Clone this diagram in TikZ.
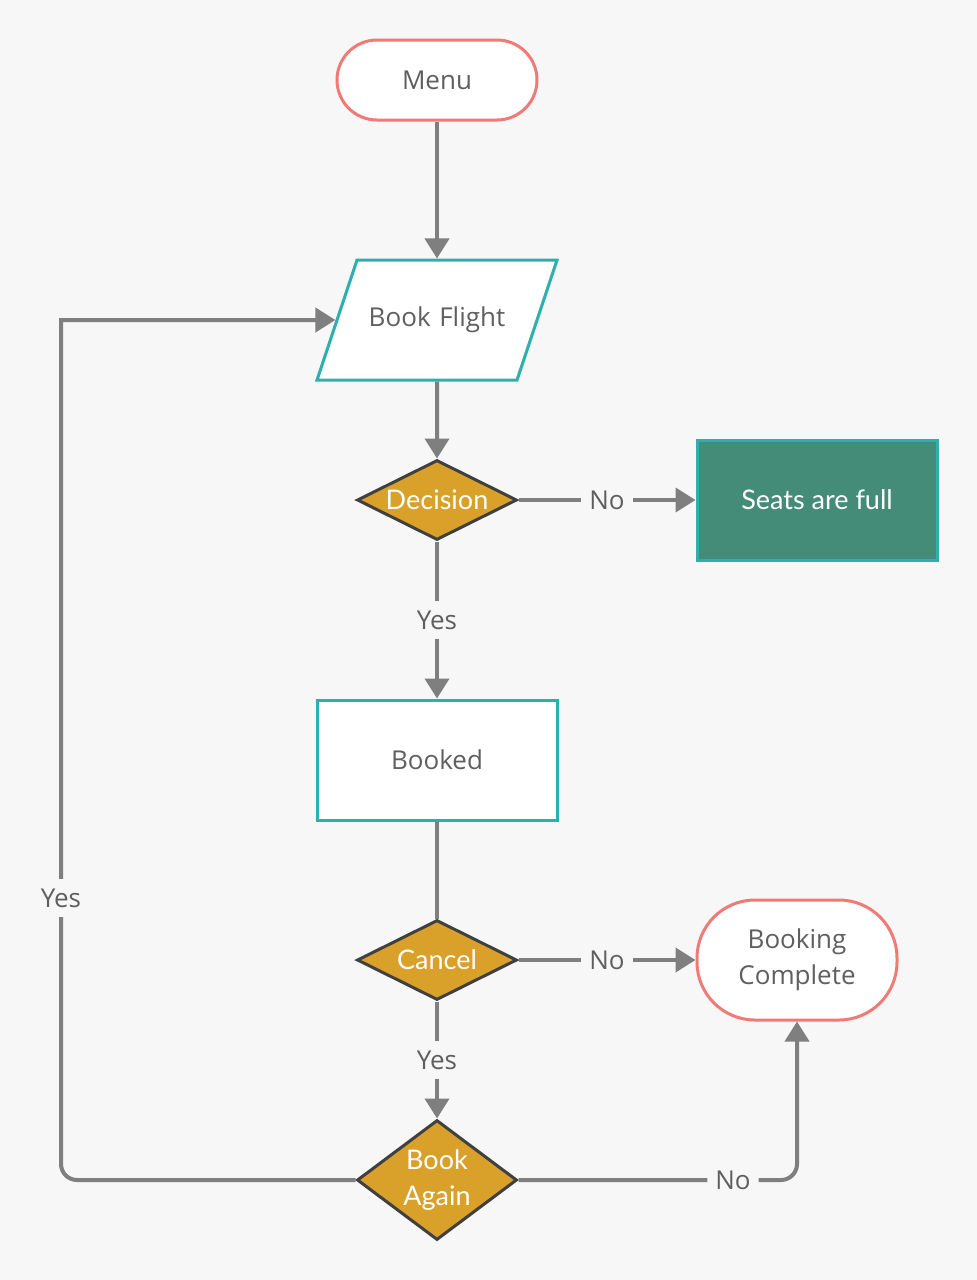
\documentclass[tikz,border=0pt]{standalone}
\usepackage{fontspec}
\setmainfont{Open Sans}
\newfontfamily\latofont{Lato}
\usetikzlibrary{shapes.geometric, arrows.meta}
\tikzset{>={Triangle[length=10pt,width=12pt]}}
\definecolor{bgcol}{HTML}{F7F7F7}
\definecolor{linegray}{HTML}{7F7F7F}
\definecolor{txtgray}{HTML}{5F5F5F}
\definecolor{termred}{HTML}{EF7A76}
\definecolor{tealline}{HTML}{2BB0AE}
\definecolor{seatfill}{HTML}{458C78}
\definecolor{gold}{HTML}{D9A02A}
\definecolor{dgray}{HTML}{404040}

\begin{document}
\begin{tikzpicture}[x=0.5pt, y=-0.5pt]
	\tikzstyle{terminal} = [rectangle, draw=termred, line width=1.5pt, fill=white, text=txtgray, font=\fontsize{13}{18}\selectfont, align=center]
	\tikzstyle{io} = [trapezium, trapezium left angle=71.565, trapezium right angle=108.435, text width=70pt, align=center, text height=9pt, text depth=3pt, inner xsep=5pt, inner ysep=24pt, draw=tealline, line width=1.5pt, fill=white, text=txtgray, font=\fontsize{13}{18}\selectfont]
	\tikzstyle{process} = [rectangle, draw=tealline, line width=1.5pt, minimum width=120pt, minimum height=60pt, font=\fontsize{13}{18}\selectfont]
	\tikzstyle{decision} = [diamond, draw=dgray, line width=1.5pt, fill=gold, text=white, inner sep=0pt, minimum width=80pt, font=\latofont\fontsize{13.5}{18}\selectfont, align=center]
	\tikzstyle{edge} = [->, line width=2pt, draw=linegray]
	\tikzstyle{edgetext} = [fill=bgcol, text=txtgray, inner xsep=4pt, inner ysep=5pt, font=\fontsize{13}{18}\selectfont]

	\fill[bgcol] (0,0) rectangle (977,1280);
	\useasboundingbox (0,0) rectangle (977,1280);

%----------top: menu and booking---------------------------
	\node[terminal, minimum width=100pt, minimum height=40pt, rounded corners=20pt] (menu) at (437,80) {Menu};
	\node[io] (bflight) at (437,320) {Book Flight};
	\node[decision, aspect=2, minimum height=40pt] (decision) at (437,500) {Decision};
	\node[process, fill=seatfill, text=white, font=\latofont\fontsize{13.5}{18}\selectfont] (seats) at (817,500) {Seats are full};

	\draw[edge] (menu) -- (bflight);
	\draw[edge] (bflight) -- (decision);
	\draw[edge] (decision) -- node[edgetext] {No} (seats);

%----------middle: booked and cancel-----------------------
	\node[process, fill=white, text=txtgray] (booked) at (437,760) {Booked};
	\node[decision, aspect=2, minimum height=40pt] (cancel) at (437,960) {Cancel};
	\node[terminal, minimum width=100pt, minimum height=60pt, rounded corners=29pt] (bcomplete) at (797,960) {Booking\\Complete};

	\draw[edge] (decision) -- node[edgetext] {Yes} (booked);
	\draw[line width=2pt, draw=linegray] (booked) -- (cancel);
	\draw[edge] (cancel) -- node[edgetext] {No} (bcomplete);

%----------bottom: book again------------------------------
	\node[decision, aspect=1.333, minimum height=60pt] (bagain) at (437,1180) {Book\\Again};
	\coordinate (loopcorner) at (61,320);

	\draw[edge] (cancel) -- node[edgetext] {Yes} (bagain);
	\draw[edge, rounded corners=8pt] (bagain.east) -- node[edgetext, pos=0.77] {No} (bagain.east -| bcomplete.south) -- (bcomplete.south);
	\draw[edge] (bagain.west) [rounded corners=8pt] -- (bagain.west -| loopcorner) [sharp corners] -- node[edgetext, pos=0.328] {Yes} (loopcorner) -- (bflight.left side);

\end{tikzpicture}
\end{document}
